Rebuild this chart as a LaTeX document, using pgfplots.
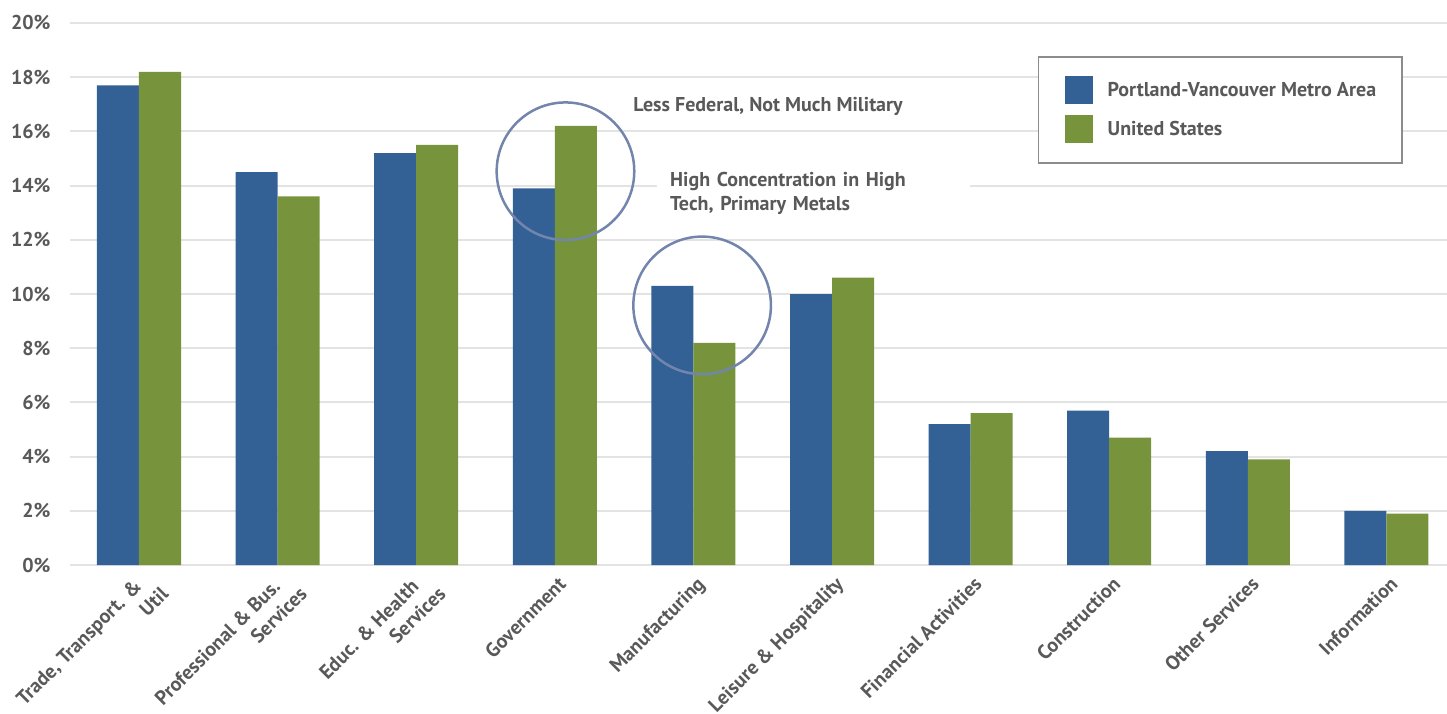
\documentclass[border=0pt]{standalone}
\usepackage{pgfplots}
\pgfplotsset{compat=1.18}
\usepackage{fontspec}
\setmainfont{PT Sans}
\definecolor{pdxblue}{HTML}{336195}
\definecolor{usgreen}{HTML}{77933C}
\definecolor{txtgray}{HTML}{595959}
\definecolor{gridgray}{HTML}{E3E3E3}
\definecolor{circ}{HTML}{7385AD}
\definecolor{legendgray}{HTML}{8C8C8C}
\newcommand{\oneline}[1]{\rule{0pt}{18.5pt}#1}
\begin{document}
\begin{tikzpicture}
\begin{axis}[
  x=138.6pt, y=27.1pt,
  xmin=-0.5, xmax=9.5, ymin=0, ymax=20,
  ybar=0pt, bar width=42pt,
  axis line style={draw=none},
  major tick length=0pt,
  ymajorgrids, grid style={gridgray, line width=2pt},
  ytick={0,2,...,20},
  yticklabels={0\%,2\%,4\%,6\%,8\%,10\%,12\%,14\%,16\%,18\%,20\%},
  xtick={0,1,...,9},
  xticklabels={{Trade, Transport. \&\rule{8pt}{0pt}\\Util\hspace*{-6pt}},
               {Professional \& Bus.\rule{8pt}{0pt}\\Services\hspace*{-6pt}},
               {Educ. \& Health\rule{8pt}{0pt}\\Services\hspace*{-6pt}},
               \oneline{Government}, \oneline{Manufacturing}, \oneline{Leisure \& Hospitality},
               \oneline{Financial Activities}, \oneline{Construction}, \oneline{Other Services}, \oneline{Information}},
  tick label style={font=\bfseries\fontsize{20}{24}\selectfont, text=txtgray},
  yticklabel style={anchor=east, inner sep=0pt, xshift=-19pt},
  xticklabel style={inner sep=0pt, xshift=-0.8pt, yshift=-7.2pt, rotate=45, anchor=north east, align=right},
  legend style={
    at={(0.6986,0.9391)}, anchor=north west,
    draw=legendgray, line width=1.5pt, fill=white,
    inner xsep=26pt, inner ysep=19.5pt,
    row sep=11pt, column sep=15pt,
    nodes={inner sep=0pt},
    font=\bfseries\fontsize{20}{24}\selectfont, text=txtgray,
  },
  legend cell align=left,
  legend image code/.code={\fill[#1] (0pt,-14pt) rectangle (28pt,14pt);},
  clip=false,
]
\addplot[fill=pdxblue, draw=none] coordinates {
  (0,17.7) (1,14.5) (2,15.2) (3,13.9) (4,10.3)
  (5,10.0) (6,5.2) (7,5.7) (8,4.2) (9,2.0)};
\addplot[fill=usgreen, draw=none] coordinates {
  (0,18.2) (1,13.6) (2,15.5) (3,16.2) (4,8.2)
  (5,10.6) (6,5.6) (7,4.7) (8,3.9) (9,1.9)};
\legend{Portland-Vancouver Metro Area, United States}
\coordinate (O) at (axis cs:0,0);
\draw[circ, line width=2.5pt] (axis cs:3.077,14.53) circle[radius=68.8pt];
\draw[circ, line width=2.5pt] (axis cs:4.063,9.58) circle[radius=68.8pt];
\node[anchor=base west, inner sep=0pt, font=\bfseries\fontsize{20}{24}\selectfont, text=txtgray]
  at (axis cs:3.566,16.727) {Less Federal, Not Much Military};
\node[anchor=north west, fill=white, inner xsep=13pt, inner ysep=4pt, text width=287pt, align=left,
      font=\bfseries\fontsize{20}{24}\selectfont, text=txtgray]
  at (axis cs:3.737,14.66) {High Concentration in High\\Tech, Primary Metals};
\end{axis}
\pgfresetboundingbox
\path[use as bounding box] ([shift={(-139pt,-148pt)}]O) rectangle ([shift={(1308pt,565pt)}]O);
\end{tikzpicture}
\end{document}
